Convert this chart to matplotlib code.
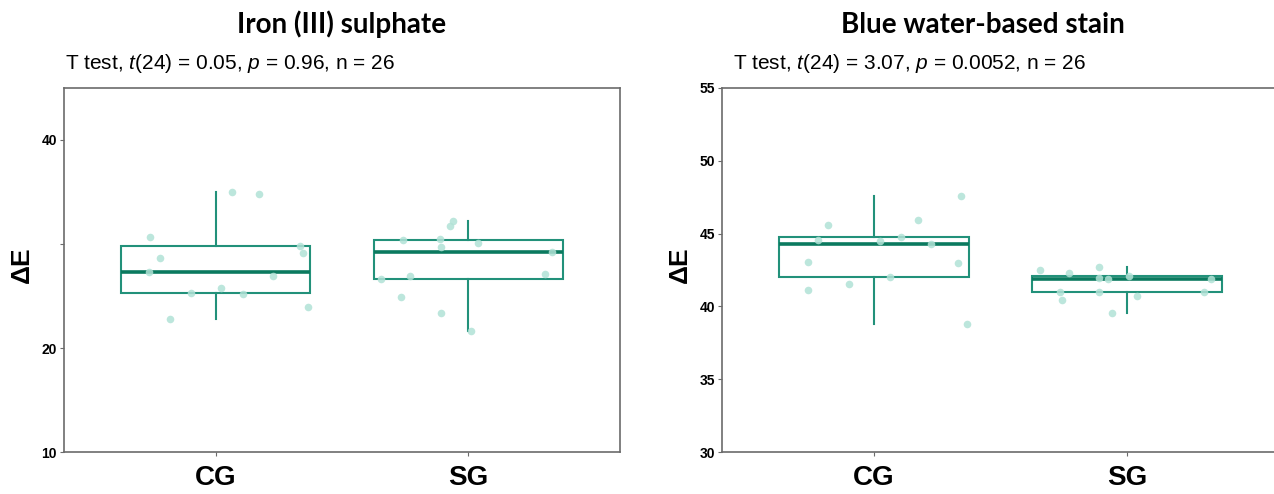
import matplotlib
matplotlib.use("Agg")
import matplotlib.pyplot as plt
import numpy as np

# ---------------------------------------------------------------------------
# Data (13 specimens per group)
# ---------------------------------------------------------------------------
groups = ["CG", "SG"]

# horizontal jitter offsets, shared by both panels
cg_jitter = [-0.262, -0.259, -0.222, -0.180, -0.098, 0.023, 0.063,
             0.107, 0.173, 0.225, 0.334, 0.344, 0.366]
sg_jitter = [-0.345, -0.266, -0.257, -0.230, -0.111, -0.110, -0.109,
             -0.074, -0.060, 0.009, 0.038, 0.304, 0.330]

# Iron (III) sulphate
iron_cg = [27.28, 30.67, 28.68, 22.79, 25.26, 25.74, 35.03,
           25.19, 34.78, 26.96, 29.78, 29.10, 23.91]
iron_sg = [26.60, 24.87, 30.38, 26.92, 30.45, 29.68, 23.40,
           31.70, 32.21, 21.60, 30.13, 27.08, 29.20]

# Blue water-based stain
blue_cg = [43.03, 41.15, 44.54, 45.59, 41.54, 44.49, 42.02,
           44.77, 45.96, 44.26, 42.96, 47.56, 38.79]
blue_sg = [42.48, 40.99, 40.42, 42.27, 41.01, 42.68, 41.97,
           41.86, 39.53, 42.11, 40.74, 40.97, 41.86]

iron_ticks = [10, 20, 30, 40]
iron_ticklabels = ["10", "20", "", "40"]
blue_ticks = [30, 35, 40, 45, 50, 55]

BOX = "#22917a"
MEDIAN = "#0b7a5f"
POINT = "#b1e2d6"
SPINE = "#6b6b6b"

plt.rcParams["mathtext.fontset"] = "custom"
plt.rcParams["mathtext.rm"] = "Liberation Sans"
plt.rcParams["mathtext.it"] = "Liberation Sans:italic"

fig = plt.figure(figsize=(12.74, 4.94), dpi=100)
W, H = 1274, 494


def panel(rect, cg, sg, ylim, ticks, ticklabels, title, title_x, subtitle,
          sub_x, ylabel_x, right_spine=True):
    ax = fig.add_axes(rect)
    ax.boxplot([cg, sg], positions=[1, 2], widths=0.75, whis=1.5,
               showcaps=False, showfliers=False, patch_artist=True,
               boxprops=dict(facecolor="white", edgecolor=BOX, linewidth=1.5),
               whiskerprops=dict(color=BOX, linewidth=1.5),
               medianprops=dict(color=MEDIAN, linewidth=2.6),
               zorder=2)
    xs_cg = [1 + j for j in cg_jitter]
    xs_sg = [2 + j for j in sg_jitter]
    ax.scatter(xs_cg + xs_sg, cg + sg, s=30, color=POINT, alpha=0.85,
               linewidths=0, zorder=3)
    ax.set_xlim(0.4, 2.6)
    ax.set_ylim(*ylim)
    ax.set_xticks([1, 2])
    ax.set_xticklabels(groups, fontsize=20, fontweight="bold",
                       family="Liberation Sans")
    ax.set_yticks(ticks)
    ax.set_yticklabels(ticklabels, fontsize=10, fontweight="bold",
                       family="Liberation Sans")
    ax.tick_params(axis="x", length=3, color=SPINE, pad=6)
    ax.tick_params(axis="y", length=3, color=SPINE, pad=2)
    for s in ax.spines.values():
        s.set_color(SPINE)
        s.set_linewidth(1.2)
    ax.spines["right"].set_visible(right_spine)
    fig.text(ylabel_x / W, 1 - 265 / H, "ΔE",
             rotation=90, ha="center", va="center", fontsize=19,
             fontweight="bold", family="Liberation Sans")
    fig.text(title_x / W, 1 - 33 / H, title, ha="center", va="baseline",
             fontsize=20, fontweight="bold", family="Lato")
    fig.text(sub_x / W, 1 - 69 / H, subtitle, ha="left", va="baseline",
             fontsize=15, family="Liberation Sans")
    return ax


bottom = 1 - 452 / H
height = (452 - 88) / H

panel([64 / W, bottom, (620 - 64) / W, height], iron_cg, iron_sg, (10, 45),
      iron_ticks, iron_ticklabels, "Iron (III) sulphate", 342,
      r"T test, $t$(24) = 0.05, $p$ = 0.96, n = 26", 65, 22)

panel([722 / W, bottom, (1279 - 722) / W, height], blue_cg, blue_sg, (30, 55),
      blue_ticks, [str(t) for t in blue_ticks], "Blue water-based stain", 983,
      r"T test, $t$(24) = 3.07, $p$ = 0.0052, n = 26", 733, 680,
      right_spine=False)

fig.savefig("out.png", dpi=100)
